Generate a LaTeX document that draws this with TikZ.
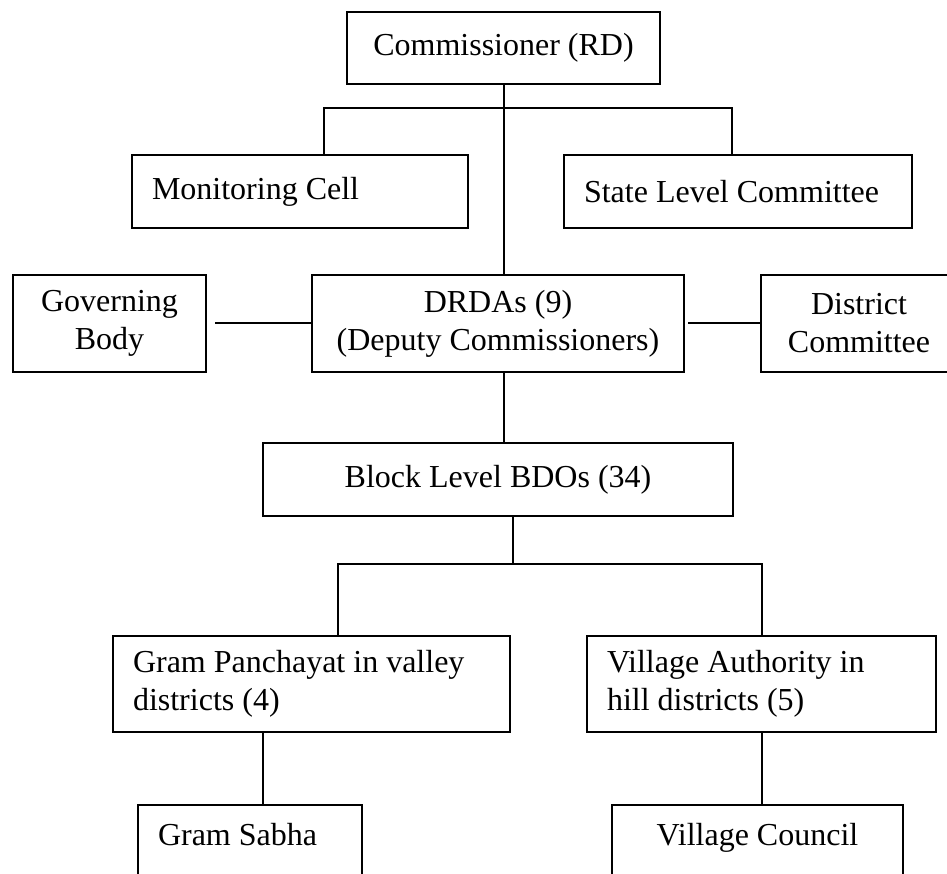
\documentclass[tikz,border=0pt]{standalone}
\usepackage{fontspec}
\setmainfont{Liberation Serif}
\begin{document}
\begin{tikzpicture}[x=1pt, y=-1pt,
  box/.style={draw, line width=2.2pt, inner sep=0pt, align=center,
    font=\fontsize{32}{38}\selectfont},
  lbox/.style={box, align=flush left, inner xsep=20pt},
  link/.style={line width=2pt}]
  \useasboundingbox (0,0) rectangle (947,874);
  \clip (0,0) rectangle (947,874);
  % commissioner at the top
  \node[box, minimum width=313pt, minimum height=72pt] (comm) at (503.5,48) {Commissioner (RD)};
  % cell and state committee
  \node[lbox, text width=296pt, minimum height=73pt] (cell) at (300,191.5) {Monitoring Cell};
  \node[lbox, text width=308pt, minimum height=73pt] (state) at (738,191.5) {State Level Committee};
  % district level row
  \node[box, minimum width=372pt, minimum height=97pt] (drda) at (498,323.5) {DRDAs (9)\\(Deputy Commissioners)};
  \node[box, minimum width=193pt, minimum height=97pt] (gov) at (109.5,323.5) {Governing\\Body};
  \node[box, minimum width=196pt, minimum height=97pt] (dist) at (859,323.5) {District\\Committee};
  % block level
  \node[box, minimum width=470pt, minimum height=73pt] (block) at (498,479.5) {Block Level BDOs (34)};
  % panchayat and village authority
  \node[lbox, text width=357pt, minimum height=96pt] (pan) at (311.5,684) {Gram Panchayat in valley\\districts (4)};
  \node[lbox, text width=309pt, minimum height=96pt] (auth) at (761.5,684) {Village Authority in\\hill districts (5)};
  % bottom boxes, running past the lower edge
  \node[lbox, anchor=north, text width=184pt, inner ysep=18pt, text depth=100pt] (sabha) at (250,804) {Gram Sabha};
  \node[box, anchor=north, minimum width=291pt, inner ysep=18pt, text depth=100pt] (council) at (757.5,804) {Village Council};
  % bus points
  \coordinate (busL) at (324,108);
  \coordinate (busR) at (732,108);
  \coordinate (lowL) at (338,564);
  \coordinate (lowM) at (513,564);
  \coordinate (lowR) at (762,564);
  \coordinate (gsx) at (263,0);
  % connectors
  \draw[link] (comm.south) -- (comm.south |- drda.north);
  \draw[link] (busL |- cell.north) -- (busL) -- (busR) -- (busR |- state.north);
  \draw[link, shorten <=8pt] (gov.east) -- (drda.west);
  \draw[link, shorten <=3pt] (drda.east) -- (dist.west);
  \draw[link] (comm.south |- drda.south) -- (comm.south |- block.north);
  \draw[link] (lowM |- block.south) -- (lowM);
  \draw[link] (lowL |- pan.north) -- (lowL) -- (lowR) -- (lowR |- auth.north);
  \draw[link] (gsx |- pan.south) -- (gsx |- sabha.north);
  \draw[link] (auth.south) -- (auth.south |- council.north);
\end{tikzpicture}
\end{document}
